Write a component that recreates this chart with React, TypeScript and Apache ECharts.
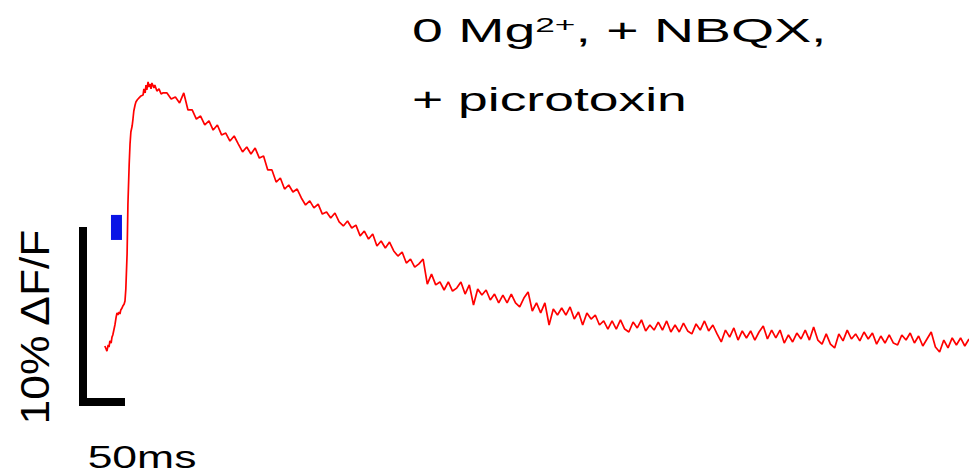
import React, { useEffect, useRef } from "react";
import * as echarts from "echarts";

// ---- data (time in ms, response in % ΔF/F) ----
const RISE_T = [26, 27.5, 28.5, 30, 31, 32, 33.5, 34.5, 35.5, 37, 38, 39.5, 40.5, 41.5, 43, 44, 45, 46.5, 47.5, 49, 50, 51, 52.5, 53.5, 55, 56, 57, 58.5, 59.5, 60.5, 62, 63, 64.5, 66.5, 69, 71.5, 72.5, 74, 75, 76, 77.5, 78.5, 80, 81, 82, 83.5, 84.5, 85.5, 88, 90.5, 93];
const RISE_V = [3.2, 3.03, 2.91, 3.26, 3.14, 3.49, 3.37, 3.71, 3.83, 4.17, 4.4, 4.86, 5.09, 4.97, 5.14, 5.03, 5.26, 5.37, 5.49, 5.6, 5.77, 6.46, 8.46, 11.31, 13.6, 14.74, 15.43, 15.77, 16.17, 16.63, 16.97, 17.14, 17.26, 17.37, 17.49, 17.54, 17.89, 17.66, 18.11, 17.83, 18.29, 18.0, 18.17, 17.89, 18.23, 18.06, 17.94, 18.11, 17.77, 17.89, 17.6];
const DECAY_T0 = 95;
const DECAY_DT = 5;
const DECAY_V = [
  17.66, 17.66, 17.31, 17.43, 17.09, 17.66, 16.69, 16.69, 16.17, 16.34,
  15.83, 16.06, 15.54, 15.83, 15.26, 15.37, 14.91, 15.2, 14.74, 14.29,
  14.57, 14.17, 14.51, 13.94, 14.06, 13.26, 13.26, 12.57, 12.8, 12.17,
  12.4, 12.0, 12.17, 11.66, 11.26, 11.49, 11.09, 11.31, 10.74, 10.86,
  10.51, 10.8, 10.29, 10.06, 10.34, 9.94, 10.11, 9.49, 9.77, 9.31,
  9.6, 8.91, 9.2, 8.8, 9.14, 8.63, 8.34, 8.57, 7.94, 8.17,
  7.71, 7.89, 8.17, 6.74, 7.31, 6.69, 6.86, 6.4, 6.86, 6.34,
  6.51, 6.86, 6.17, 6.69, 5.54, 6.46, 6.11, 6.4, 5.83, 6.17,
  5.66, 6.11, 5.66, 6.17, 5.66, 5.43, 5.94, 6.29, 5.2, 5.66,
  5.09, 5.66, 4.4, 5.31, 4.97, 5.37, 4.97, 5.43, 4.74, 5.14,
  4.4, 5.09, 4.74, 4.97, 4.4, 4.63, 4.17, 4.63, 4.17, 4.69,
  4.17, 4.0, 4.57, 4.23, 4.69, 4.06, 4.4, 4.11, 4.57, 4.11,
  4.63, 4.0, 4.4, 4.0, 4.51, 4.06, 3.89, 4.46, 4.11, 4.63,
  4.06, 4.4, 3.89, 3.43, 4.11, 3.71, 4.23, 3.54, 4.06, 3.66,
  4.06, 3.54, 4.0, 4.34, 3.6, 4.11, 3.66, 4.11, 3.37, 3.83,
  3.43, 3.94, 3.6, 4.11, 3.54, 4.29, 3.54, 3.31, 3.89, 3.31,
  3.09, 3.89, 3.49, 4.11, 3.6, 3.89, 3.49, 4.0, 3.6, 3.94,
  3.31, 3.77, 3.37, 3.83, 3.37, 3.26, 3.83, 3.54, 3.94, 3.37,
  3.77, 3.2, 3.6, 4.0, 3.14, 2.86, 3.54, 3.09, 3.66, 3.26,
  3.66, 3.2, 3.6
];
// stimulus marker (ms, %)
const STIM_T = [33.3, 46.4];
const STIM_V = [9.26, 10.69];
// scale bars: 50 ms, 10 % ΔF/F
const SCALE_T = [0, 0, 50];
const SCALE_V = [10, 0, 0];
const X_MAX = 1055;
const Y_MAX = 20;

const TITLE_1A = "0 Mg";
const TITLE_1SUP = "2+";
const TITLE_1B = ", + NBQX,";
const TITLE_2 = "+ picrotoxin";
const Y_LABEL = "10% \u0394F/F";
const X_LABEL = "50ms";

export default function App() {
  const ref = useRef<HTMLDivElement>(null);
  useEffect(() => {
    if (!ref.current) return;
    const chart = echarts.init(ref.current, undefined, { renderer: "svg" });
    const trace: number[][] = [];
    RISE_T.forEach((t, i) => trace.push([t, RISE_V[i]]));
    DECAY_V.forEach((v, i) => trace.push([DECAY_T0 + i * DECAY_DT, v]));
    const scale = SCALE_T.map((t, i) => [t, SCALE_V[i]]);
    const font = "Liberation Sans, Arial, sans-serif";
    chart.setOption({
      animation: false,
      backgroundColor: "#ffffff",
      grid: { left: 83, top: 52, width: 886, height: 350 },
      xAxis: { type: "value", min: 0, max: X_MAX, show: false },
      yAxis: { type: "value", min: 0, max: Y_MAX, show: false },
      series: [
        {
          type: "line",
          data: trace,
          symbol: "none",
          clip: false,
          lineStyle: { color: "#ff0000", width: 1.7 },
          z: 3,
        },
        {
          type: "line",
          data: scale,
          symbol: "none",
          clip: false,
          lineStyle: { color: "#000000", width: 8, cap: "butt", join: "miter" },
          z: 2,
        },
        {
          type: "custom",
          clip: false,
          data: [[STIM_T[0], STIM_V[0], STIM_T[1], STIM_V[1]]],
          renderItem: (params: any, api: any) => {
            const p0 = api.coord([api.value(0), api.value(1)]);
            const p1 = api.coord([api.value(2), api.value(3)]);
            return {
              type: "rect",
              shape: {
                x: Math.min(p0[0], p1[0]),
                y: Math.min(p0[1], p1[1]),
                width: Math.abs(p1[0] - p0[0]),
                height: Math.abs(p1[1] - p0[1]),
              },
              style: { fill: "#0a14e6" },
            };
          },
          z: 2,
        },
      ],
      graphic: [
        {
          type: "text",
          x: 412,
          y: 30.5,
          scaleX: 1.68,
          style: {
            text: TITLE_1A + "{sup|" + TITLE_1SUP + "}" + TITLE_1B,
            font: "33px " + font,
            fill: "#000000",
            verticalAlign: "middle",
            rich: {
              sup: { fontSize: 21, fontFamily: font, verticalAlign: "top", padding: [0, 0, 10, 0] },
            },
          },
        },
        {
          type: "text",
          x: 412,
          y: 99,
          scaleX: 1.62,
          style: { text: TITLE_2, font: "33px " + font, fill: "#000000", verticalAlign: "middle" },
        },
        {
          type: "text",
          x: 35,
          y: 327,
          rotation: Math.PI / 2,
          scaleX: 1.11,
          style: { text: Y_LABEL, font: "40px " + font, fill: "#000000", align: "center", verticalAlign: "middle" },
        },
        {
          type: "text",
          x: 142,
          y: 456.5,
          scaleX: 1.39,
          style: {
            text: X_LABEL,
            font: "32px " + font,
            lineHeight: 30,
            fill: "#000000",
            align: "center",
            verticalAlign: "middle",
          },
        },
      ],
    });
    return () => chart.dispose();
  }, []);
  return (
    <div
      ref={ref}
      style={{ position: "fixed", left: 0, top: 0, width: 969, height: 474, background: "#fff" }}
    />
  );
}
